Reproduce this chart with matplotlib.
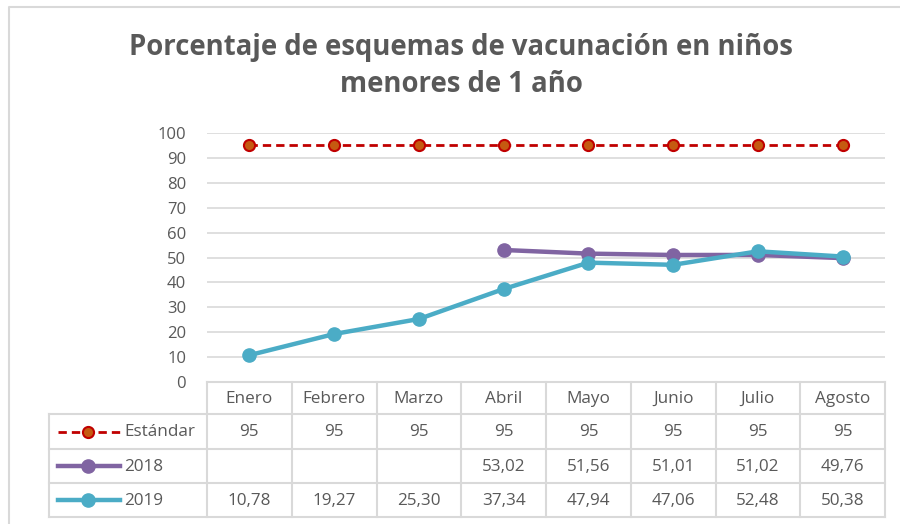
import matplotlib
matplotlib.use("Agg")
import matplotlib.pyplot as plt
from matplotlib.lines import Line2D
import numpy as np

months = ["Enero", "Febrero", "Marzo", "Abril", "Mayo", "Junio", "Julio", "Agosto"]
estandar = [95, 95, 95, 95, 95, 95, 95, 95]
s2018 = [None, None, None, 53.02, 51.56, 51.01, 51.02, 49.76]
s2019 = [10.78, 19.27, 25.30, 37.34, 47.94, 47.06, 52.48, 50.38]
series_names = ["Estándar", "2018", "2019"]
yticks = list(range(0, 101, 10))

RED = "#C00000"
RED_FILL = "#C55A11"
PURPLE = "#8064A2"
TEAL = "#4BACC6"
TXT = "#595959"
GRID = "#D9D9D9"

plt.rcParams['font.family'] = ['Open Sans', 'DejaVu Sans']

W, H = 900, 524
fig = plt.figure(figsize=(W / 100, H / 100), dpi=100)

# overlay axes in pixel coordinates for frame/table
ov = fig.add_axes([0, 0, 1, 1])
ov.set_xlim(0, W)
ov.set_ylim(H, 0)
ov.axis("off")

# outer chart frame
ov.plot([9, 9, W + 5], [H + 5, 7, 7], color=GRID, lw=1.5)

x0, x1, ytop, ybot = 207, 885, 133, 382
ax = fig.add_axes([x0 / W, 1 - ybot / H, (x1 - x0) / W, (ybot - ytop) / H])
ax.patch.set_alpha(0)
n = len(months)
x = np.arange(n)
ax.set_xlim(-0.5, n - 0.5)
ax.set_ylim(0, 100)
ax.set_yticks(yticks)
ax.set_yticklabels([str(v) for v in yticks], color=TXT, fontsize=12)
ax.tick_params(axis="y", length=0, pad=15)
ax.set_xticks([])
for s in ax.spines.values():
    s.set_visible(False)
ax.grid(axis="y", color=GRID, lw=1.2)
ax.set_axisbelow(True)

DASH = (0, (3.0, 1.8))
y18 = np.array([np.nan if v is None else v for v in s2018], dtype=float)
ax.plot(x, estandar, color=RED, lw=2, ls=DASH, marker="o", ms=8,
        mfc=RED_FILL, mec=RED, mew=1.5, zorder=3, clip_on=False)
ax.plot(x, y18, color=PURPLE, lw=3.2, marker="o", ms=9.5, zorder=3, clip_on=False)
ax.plot(x, s2019, color=TEAL, lw=3.2, marker="o", ms=9.5, zorder=4, clip_on=False)

# title
fig.text(461 / W, 1 - 47 / H, "Porcentaje de esquemas de vacunación en niños",
         ha="center", va="center", fontsize=19.8, fontweight="bold", color=TXT)
fig.text(461 / W, 1 - 85 / H, "menores de 1 año",
         ha="center", va="center", fontsize=19.8, fontweight="bold", color=TXT)

# data table
cw = (x1 - x0) / n
tl = 49
rows_y = [382, 414, 449, 483, 517]
lc = GRID
lw = 1.5
ov.plot([x0, x1], [rows_y[0], rows_y[0]], color=lc, lw=lw)
for yy in rows_y[1:]:
    ov.plot([tl, x1], [yy, yy], color=lc, lw=lw)
for k in range(n + 1):
    xx = x0 + k * cw
    ov.plot([xx, xx], [rows_y[0], rows_y[-1]], color=lc, lw=lw)
ov.plot([tl, tl], [rows_y[1], rows_y[-1]], color=lc, lw=lw)

fs = 12.3
for k, m in enumerate(months):
    ov.text(x0 + (k + 0.5) * cw, (rows_y[0] + rows_y[1]) / 2 + 1, m,
            ha="center", va="center", fontsize=fs, color=TXT)


def fmt(v):
    if v is None:
        return ""
    if float(v).is_integer():
        return str(int(v))
    return f"{v:.2f}".replace(".", ",")


for r, data in enumerate([estandar, s2018, s2019]):
    yc = (rows_y[r + 1] + rows_y[r + 2]) / 2 + 1
    for k, v in enumerate(data):
        ov.text(x0 + (k + 0.5) * cw, yc, fmt(v), ha="center", va="center",
                fontsize=fs, color=TXT)

keys = [
    dict(color=RED, lw=2, ls=DASH, marker="o", ms=8, mfc=RED_FILL, mec=RED, mew=1.5),
    dict(color=PURPLE, lw=3.2, marker="o", ms=9.5),
    dict(color=TEAL, lw=3.2, marker="o", ms=9.5),
]
mkeys = ("marker", "ms", "mfc", "mec", "mew")
for r, (name, kw) in enumerate(zip(series_names, keys)):
    yc = (rows_y[r + 1] + rows_y[r + 2]) / 2
    ov.add_line(Line2D([58, 120], [yc, yc], **{k: v for k, v in kw.items() if k not in mkeys}))
    ov.add_line(Line2D([88], [yc], ls="none", **{k: v for k, v in kw.items() if k in mkeys + ("color",)}))
    ov.text(124, yc + 1, name, ha="left", va="center", fontsize=fs, color=TXT)

fig.savefig("out.png", dpi=100)
